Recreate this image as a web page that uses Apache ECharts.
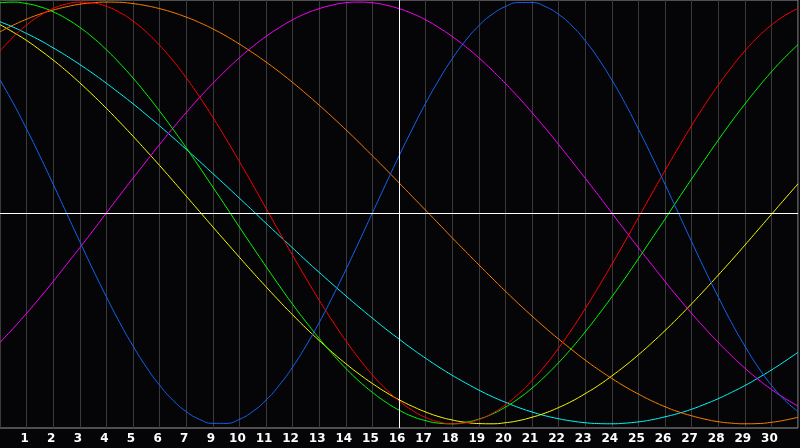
<!DOCTYPE html>
<html>
<head>
<meta charset="utf-8">
<title>biorhythm</title>
<script src="https://cdn.jsdelivr.net/npm/echarts@6/dist/echarts.min.js"></script>
<style>
    html, body { margin: 0; padding: 0; background: #050508; }
    #chart { width: 800px; height: 448px; }
</style>
</head>
<body>
<div id="chart"></div>
<script>
// sample positions (half days) and the labels printed under the grid lines
var days = [0,0.5,1,1.5,2,2.5,3,3.5,4,4.5,5,5.5,6,6.5,7,7.5,8,8.5,9,9.5,10,10.5,11,11.5,12,12.5,13,13.5,14,14.5,15,
            15.5,16,16.5,17,17.5,18,18.5,19,19.5,20,20.5,21,21.5,22,22.5,23,23.5,24,24.5,25,25.5,26,26.5,27,27.5,28,28.5,29,29.5,30];
var dayLabels = ['1','2','3','4','5','6','7','9','10','11','12','13','14','15','16','17','18','19','20','21','22','23','24','25','26','27','28','29','30'];
var todayPos = 15;

// curve values (-1 .. 1), one per sample position
var blue = [0.631,0.520,0.398,0.270,0.136,0.000,-0.136,-0.270,-0.398,-0.520,-0.631,-0.731,-0.817,-0.888,-0.942,-0.979,-0.998,-0.998,-0.979,-0.942,-0.888,-0.817,-0.731,-0.631,-0.520,-0.398,-0.270,-0.136,0.000,0.136,0.270,
            0.398,0.520,0.631,0.731,0.817,0.888,0.942,0.979,0.998,0.998,0.979,0.942,0.888,0.817,0.731,0.631,0.520,0.398,0.270,0.136,0.000,-0.136,-0.270,-0.398,-0.520,-0.631,-0.731,-0.817,-0.888,-0.942];
var red = [0.768,0.835,0.891,0.936,0.970,0.991,1.000,0.996,0.980,0.951,0.910,0.858,0.795,0.723,0.641,0.551,0.454,0.351,0.244,0.134,0.022,-0.090,-0.201,-0.309,-0.414,-0.513,-0.606,-0.691,-0.768,-0.835,-0.891,
           -0.936,-0.970,-0.991,-1.000,-0.996,-0.980,-0.951,-0.910,-0.858,-0.795,-0.723,-0.641,-0.551,-0.454,-0.351,-0.244,-0.134,-0.022,0.090,0.201,0.309,0.414,0.513,0.606,0.691,0.768,0.835,0.891,0.936,0.970];
var green = [0.997,1.000,0.993,0.978,0.954,0.921,0.880,0.831,0.774,0.710,0.640,0.564,0.483,0.398,0.309,0.217,0.123,0.029,-0.067,-0.161,-0.254,-0.345,-0.433,-0.516,-0.595,-0.669,-0.737,-0.798,-0.851,-0.897,-0.935,
             -0.965,-0.985,-0.997,-1.000,-0.993,-0.978,-0.954,-0.921,-0.880,-0.831,-0.774,-0.710,-0.640,-0.564,-0.483,-0.398,-0.309,-0.217,-0.123,-0.029,0.067,0.161,0.254,0.345,0.433,0.516,0.595,0.669,0.737,0.798];
var magenta = [-0.614,-0.547,-0.476,-0.402,-0.325,-0.245,-0.165,-0.083,0.000,0.083,0.165,0.245,0.325,0.402,0.476,0.547,0.614,0.677,0.736,0.789,0.837,0.879,0.916,0.946,0.969,0.986,0.997,1.000,0.997,0.986,0.969,
               0.946,0.916,0.879,0.837,0.789,0.736,0.677,0.614,0.547,0.476,0.402,0.325,0.245,0.165,0.083,0.000,-0.083,-0.165,-0.245,-0.325,-0.402,-0.476,-0.547,-0.614,-0.677,-0.736,-0.789,-0.837,-0.879,-0.916];
var orange = [0.859,0.891,0.919,0.943,0.962,0.978,0.990,0.997,1.000,0.999,0.993,0.983,0.969,0.951,0.929,0.903,0.873,0.839,0.801,0.760,0.716,0.669,0.619,0.566,0.511,0.454,0.395,0.334,0.271,0.208,0.143,
              0.078,0.013,-0.052,-0.118,-0.182,-0.246,-0.309,-0.371,-0.431,-0.489,-0.545,-0.598,-0.649,-0.698,-0.743,-0.785,-0.824,-0.859,-0.891,-0.919,-0.943,-0.962,-0.978,-0.990,-0.997,-1.000,-0.999,-0.993,-0.983,-0.969];
var yellow = [0.893,0.857,0.818,0.773,0.725,0.673,0.617,0.558,0.496,0.431,0.364,0.295,0.225,0.153,0.080,0.007,-0.066,-0.138,-0.210,-0.281,-0.350,-0.418,-0.483,-0.546,-0.605,-0.662,-0.715,-0.764,-0.809,-0.850,-0.886,
              -0.917,-0.944,-0.966,-0.982,-0.993,-0.999,-1.000,-0.995,-0.985,-0.969,-0.949,-0.923,-0.893,-0.857,-0.818,-0.773,-0.725,-0.673,-0.617,-0.558,-0.496,-0.431,-0.364,-0.295,-0.225,-0.153,-0.080,-0.007,0.066,0.138];
var cyan = [0.907,0.881,0.851,0.819,0.783,0.745,0.704,0.661,0.615,0.567,0.518,0.466,0.413,0.358,0.302,0.245,0.187,0.129,0.070,0.011,-0.049,-0.108,-0.166,-0.225,-0.282,-0.338,-0.393,-0.447,-0.499,-0.550,-0.598,
            -0.645,-0.689,-0.731,-0.770,-0.806,-0.840,-0.871,-0.898,-0.923,-0.944,-0.962,-0.976,-0.987,-0.995,-0.999,-1.000,-0.997,-0.991,-0.981,-0.967,-0.951,-0.931,-0.907,-0.881,-0.851,-0.819,-0.783,-0.745,-0.704,-0.661];

function pairs(vals) {
    return days.map(function(d, i) { return [d, vals[i]]; });
}

function curve(name, color, vals) {
    return {
        name: name,
        type: 'line',
        smooth: true,
        showSymbol: false,
        symbol: 'none',
        color: color,
        lineStyle: { width: 1, color: color },
        data: pairs(vals)
    };
}

var myChart = echarts.init(document.getElementById('chart'));

var option = {
    backgroundColor: '#050508',
    animation: false,
    grid: {
        left: 0,
        right: 2,
        top: 0,
        bottom: 20,
        show: true,
        borderColor: '#9a9a9a',
        borderWidth: 1,
        backgroundColor: 'transparent'
    },
    xAxis: {
        type: 'value',
        min: 0,
        max: 30,
        interval: 1,
        axisLine: { show: false },
        axisTick: { show: false },
        splitLine: { show: true, lineStyle: { color: '#3a3a3a', width: 1 } },
        axisLabel: {
            color: '#ffffff',
            fontFamily: 'DejaVu Sans',
            fontWeight: 'bold',
            fontSize: 12,
            margin: 5,
            padding: [0, 4, 0, 0],
            showMinLabel: false,
            showMaxLabel: false,
            formatter: function(v) {
                return (v >= 1 && v <= dayLabels.length) ? dayLabels[v - 1] : '';
            }
        }
    },
    yAxis: {
        type: 'value',
        min: -1.02,
        max: 1.01,
        axisLine: { show: false },
        axisTick: { show: false },
        axisLabel: { show: false },
        splitLine: { show: false }
    },
    series: [
        curve('cyan', '#00ffff', cyan),
        curve('yellow', '#ffff00', yellow),
        curve('orange', '#ff8000', orange),
        curve('magenta', '#ff00ff', magenta),
        curve('green', '#00ff00', green),
        curve('red', '#ff0000', red),
        curve('blue', '#1464f0', blue),
        {
            name: 'marks',
            type: 'line',
            data: [],
            markLine: {
                silent: true,
                symbol: 'none',
                label: { show: false },
                lineStyle: { color: '#ffffff', width: 1, type: 'solid' },
                data: [{ yAxis: 0 }, { xAxis: todayPos }]
            }
        }
    ]
};

myChart.setOption(option);

window.addEventListener('resize', function() {
    myChart.resize()
})
</script>
</body>
</html>
